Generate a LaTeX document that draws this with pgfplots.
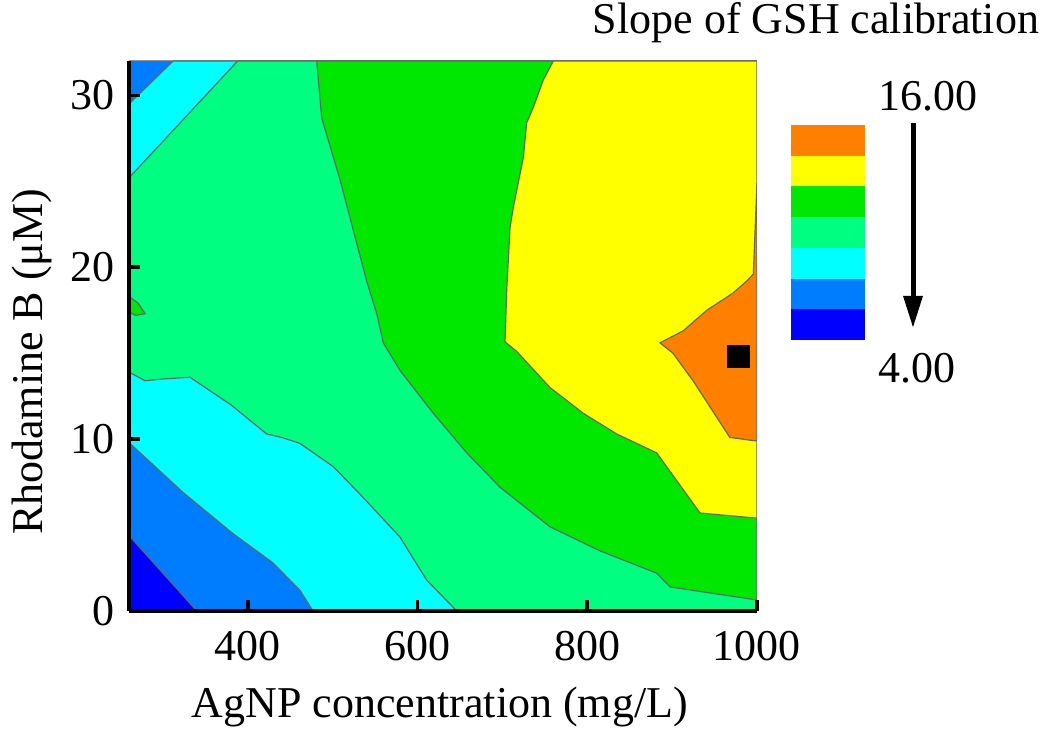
\documentclass[border=0pt]{standalone}
\usepackage{fontspec}
\setmainfont{Liberation Serif}
\usepackage{pgfplots}
\pgfplotsset{compat=1.18}
\usetikzlibrary{arrows.meta}
\definecolor{cBlue}{RGB}{0,0,255}
\definecolor{cMid}{RGB}{0,125,255}
\definecolor{cCyan}{RGB}{0,255,255}
\definecolor{cSpring}{RGB}{0,255,128}
\definecolor{cGreen}{RGB}{0,232,0}
\definecolor{cYellow}{RGB}{255,255,0}
\definecolor{cOrange}{RGB}{255,128,0}
\begin{document}
\begin{tikzpicture}
\path[use as bounding box] (0,0) rectangle (262.5pt,185.25pt);
\begin{axis}[
  at={(32.25pt,32.5pt)}, anchor=south west,
  scale only axis, width=157pt, height=137.5pt,
  xmin=260, xmax=1000, ymin=0, ymax=32,
  axis lines*=left, axis on top,
  axis line style={line width=0.9pt,-},
  xtick={400,600,800,1000}, ytick={0,10,20,30},
  tick align=inside, major tick length=2.75pt,
  every tick/.style={black,line width=0.9pt},
  tick label style={font=\fontsize{11}{13}\selectfont},
  /pgf/number format/assume math mode=true,
  /pgf/number format/1000 sep={},
  xticklabel style={yshift=-1.5pt},
  label style={font=\fontsize{11}{13}\selectfont},
  xlabel={AgNP concentration (mg/L)},
  ylabel={Rhodamine B (μM)},
  xlabel style={at={(axis description cs:0.495,0)}, anchor=base, yshift=-26.5pt},
  ylabel style={at={(axis description cs:-0.1385,0.453)}, anchor=base},
  contour/.style={draw=black!60, line width=0.3pt},
]
% level 1 (blue): whole field
\addplot[fill=cBlue, draw=none] coordinates {(260,0)(1000,0)(1000,32)(260,32)} --cycle;
% level >= 2 (medium blue)
\addplot[fill=cMid, contour] coordinates {(260,4.4)(260,32)(1000,32)(1000,0)(340,0)(300,2.2)} --cycle;
% level >= 3 (cyan)
\addplot[fill=cCyan, contour] coordinates {(260,9.8)(260,29.5)(312,32)(1000,32)(1000,0)(476.8,0)(461.5,1.2)(429.7,2.8)(382.6,4.5)(323.6,6.9)} --cycle;
% level >= 4 (spring green)
\addplot[fill=cSpring, contour] coordinates {(260,13.9)(260,25.2)(388,32)(1000,32)(1000,0)(646.2,0)(610.8,1.8)(579.3,4.3)(532.2,6.8)(500.7,8.4)(461.5,9.75)(440,10.1)(422.2,10.3)(380,12)(331.9,13.6)(300,13.5)(278.9,13.4)} --cycle;
% level >= 5 (green)
\addplot[fill=cGreen, contour] coordinates {(481.2,32)(1000,32)(1000,0.64)(897.5,1.4)(881.8,2.2)(815,3.5)(756,4.9)(697.2,7.2)(658,9.2)(618.6,11.5)(579.3,14.0)(559.7,15.6)(551.9,17.3)(540,19.2)(508.6,25.1)(487,28.7)} --cycle;
\addplot[fill=cGreen, contour] coordinates {(260,18.3)(271,17.9)(279,17.3)(268,17.2)(260,17.4)} --cycle;
% level >= 6 (yellow)
\addplot[fill=cYellow, contour] coordinates {(760,32)(1000,32)(1000,5.4)(932.9,5.7)(881.8,9.2)(834.7,10.3)(795.4,11.5)(756.1,13.0)(716.9,15.1)(703.1,15.66)(705.1,18.7)(709,22.3)(712.9,23.5)(724.7,26.4)(728.6,28.4)(736.4,29.3)(748.2,30.9)} --cycle;
% level 7 (orange)
\addplot[fill=cOrange, contour] coordinates {(1000,24.9)(995.7,19.6)(988,19.2)(971.8,18.5)(941,17.5)(913,16.3)(885.7,15.6)(901,15.0)(924.6,13.4)(968,10.1)(997.7,9.9)(1000,9.9)} --cycle;
% optimum
\addplot[only marks, mark=square*, mark size=2.6pt, black] coordinates {(978,14.8)};
\end{axis}
\begin{axis}[
  at={(197.75pt,100.25pt)}, anchor=south west,
  scale only axis, width=18.5pt, height=53.75pt,
  xmin=0, xmax=1, ymin=0, ymax=7,
  hide axis, clip=false,
]
\addplot[fill=cBlue, draw=none] coordinates {(0,0)(1,0)(1,1)(0,1)} --cycle;
\addplot[fill=cMid, draw=none] coordinates {(0,1)(1,1)(1,2)(0,2)} --cycle;
\addplot[fill=cCyan, draw=none] coordinates {(0,2)(1,2)(1,3)(0,3)} --cycle;
\addplot[fill=cSpring, draw=none] coordinates {(0,3)(1,3)(1,4)(0,4)} --cycle;
\addplot[fill=cGreen, draw=none] coordinates {(0,4)(1,4)(1,5)(0,5)} --cycle;
\addplot[fill=cYellow, draw=none] coordinates {(0,5)(1,5)(1,6)(0,6)} --cycle;
\addplot[fill=cOrange, draw=none] coordinates {(0,6)(1,6)(1,7)(0,7)} --cycle;
\draw[line width=1.25pt, -{Triangle[length=8pt,width=4.6pt]}] (axis cs:1.6486,7.065) -- (axis cs:1.6486,0.391);
\node[anchor=base, font=\fontsize{11}{13}\selectfont, inner sep=0pt] at (axis cs:1.846,7.488) {16.00};
\node[anchor=base, font=\fontsize{11}{13}\selectfont, inner sep=0pt] at (axis cs:1.703,-1.40) {4.00};
\node[anchor=base, font=\fontsize{11}{13}\selectfont, inner sep=0pt] at (axis cs:0.338,9.97) {Slope of GSH calibration};
\end{axis}
\end{tikzpicture}
\end{document}
